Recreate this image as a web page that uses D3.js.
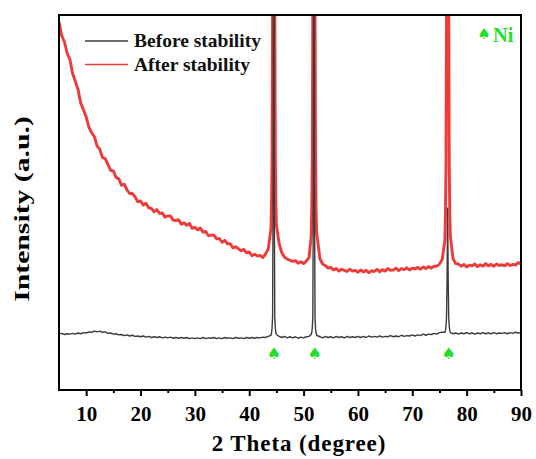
<!DOCTYPE html>
<html><head><meta charset="utf-8">
<script src="https://cdn.jsdelivr.net/npm/d3@7"></script>
<style>
html,body{margin:0;padding:0;background:#fff;}
svg text{font-family:"Liberation Serif","Times New Roman",serif;font-weight:bold;}
</style></head>
<body><svg id="chart" width="536" height="459"></svg>
<script>
// ---- data ----
const twoTheta = [
 5,5.5,6,6.5,7,7.5,8,8.5,9,9.5,10,10.5,11,11.5,12,12.5,13,13.5,14,14.5,15,15.5,16,16.5,17,17.5,18,18.5,19,19.5,
 20,20.5,21,21.5,22,22.5,23,23.5,24,24.5,25,25.5,26,26.5,27,27.5,28,28.5,29,29.5,30,30.5,31,31.5,32,32.5,33,33.5,34,34.5,
 35,35.5,36,36.5,37,37.5,38,38.5,39,39.5,40,40.5,41,41.5,42,42.5,43,43.5,
 44,44.1,44.2,44.3,44.4,44.5,44.6,44.7,44.8,44.9,45,
 45.5,46,46.5,47,47.5,48,48.5,49,49.5,50,50.5,51,
 51.4,51.5,51.6,51.7,51.8,51.9,52,52.1,52.2,52.3,52.4,
 53,53.5,54,54.5,55,55.5,56,56.5,57,57.5,58,58.5,59,59.5,60,60.5,61,61.5,62,62.5,63,63.5,64,64.5,
 65,65.5,66,66.5,67,67.5,68,68.5,69,69.5,70,70.5,71,71.5,72,72.5,73,73.5,74,74.5,75,75.5,
 76,76.1,76.2,76.3,76.4,76.5,76.6,76.7,76.8,76.9,77,
 77.5,78,78.5,79,79.5,80,80.5,81,81.5,82,82.5,83,83.5,84,84.5,85,85.5,86,86.5,87,87.5,88,88.5,89,89.5,90
];
const beforeStability = [
 14.9,15.1,14.8,15.0,14.9,15.1,14.9,15.2,15.0,15.3,15.2,15.5,15.4,15.7,15.5,15.7,15.4,15.5,15.1,15.2,14.9,15.0,14.7,14.8,14.5,14.7,14.4,14.6,14.3,14.4,
 14.2,14.4,14.1,14.3,14.0,14.2,14.0,14.2,13.9,14.1,13.9,14.1,13.8,14.0,13.8,14.0,13.8,14.0,13.7,13.9,13.7,13.9,13.7,14.0,13.7,13.9,13.8,14.0,13.7,13.9,
 13.7,14.0,13.8,13.9,13.7,14.0,13.8,13.9,13.7,14.0,13.8,14.0,13.8,14.0,13.9,14.1,14.0,14.3,
 14.6,15.3,16.5,19.5,55,250,55,19.5,16.5,15.4,14.8,
 14.3,14.0,14.3,13.9,14.2,13.9,14.2,13.8,14.1,13.9,14.2,14.3,
 14.8,15.4,16.5,19.5,55,250,55,19.5,16.3,15.2,14.6,
 14.2,13.9,14.3,14.0,14.2,13.9,14.3,14.0,14.2,13.9,14.3,14.0,14.2,14.0,14.3,14.0,14.3,14.0,14.4,14.1,14.3,14.1,14.4,14.1,
 14.3,14.2,14.5,14.2,14.4,14.2,14.6,14.3,14.5,14.4,14.7,14.4,14.7,14.5,14.9,14.6,14.9,14.8,15.1,14.9,15.3,15.4,
 15.4,15.9,17.0,19.5,30,48.5,30,19.5,17.0,15.8,15.3,
 15.0,15.2,14.9,15.2,15.0,15.3,15.0,15.2,14.9,15.2,15.0,15.3,15.0,15.2,15.0,15.3,15.0,15.2,15.1,15.3,15.0,15.3,15.1,15.4,15.2,15.3
];
const afterStability = [
 98.1,94.5,92.8,89.8,88.2,84.4,82.3,80.1,76.5,74.7,72.8,70.1,68.6,67.6,65.1,64.2,62.0,61.7,60.1,58.6,58.4,56.7,56.3,54.6,54.9,53.4,52.4,52.4,51.5,50.2,
 50.4,49.3,49.8,48.6,48.4,47.5,48.1,47.1,47.2,46.1,46.4,46.4,45.3,45.2,45.4,44.2,44.6,43.9,44.4,43.1,43.4,42.7,43.2,42.1,42.3,41.1,41.3,41.3,40.3,40.4,
 39.4,39.9,39.0,39.0,37.9,38.2,37.7,37.1,37.5,36.6,36.8,35.8,36.2,35.7,35.9,35.3,36.3,37.6,
 43,50,62,105,250,400,250,105,62,50,44,
 39.0,36.6,35.4,34.9,34.6,34.3,34.5,33.8,34.2,33.7,34.4,35.3,
 41,48,62,105,250,400,250,105,62,48,42,
 35.0,33.6,33.2,32.5,32.7,32.0,32.4,31.7,32.2,31.9,31.6,32.2,31.7,31.9,31.4,32.0,31.5,31.9,31.3,31.8,31.6,32.2,31.5,32.1,
 31.7,32.4,31.9,32.0,32.5,31.8,32.4,32.1,32.6,32.0,32.5,32.3,32.7,32.2,32.8,32.4,32.9,32.5,33.0,33.0,33.6,34.8,
 40,47,60,105,250,400,250,105,60,47,41,
 35.0,33.7,33.6,33.0,33.5,32.8,33.3,33.1,33.6,32.9,33.4,33.0,33.7,33.1,33.5,33.0,33.6,33.2,33.4,33.1,33.7,33.2,33.5,33.3,34.0,33.6
];
const xTicks = [10,20,30,40,50,60,70,80,90];
const xMinorTicks = [15,25,35,45,55,65,75,85];
const niMarkers = [44.55,52.05,76.7];
const seriesNames = ["Before stability","After stability"];
const seriesColors = ["#3c3c3c","#ef3a3a"];

// ---- chart ----
const svg = d3.select("#chart");
const L=59, R=521, T=15, B=390;
const x = d3.scaleLinear().domain([5,90]).range([L,R]);
const y = d3.scaleLinear().domain([0,100]).range([B,T]);

svg.append("defs").append("clipPath").attr("id","clip")
  .append("rect").attr("x",L).attr("y",T).attr("width",R-L).attr("height",B-T);

const line = d3.line().x(d=>x(d[0])).y(d=>y(d[1]));
const g = svg.append("g").attr("clip-path","url(#clip)");
g.append("path").datum(twoTheta.map((t,i)=>[t,afterStability[i]]))
  .attr("d",line).attr("fill","none").attr("stroke",seriesColors[1]).attr("stroke-width",2.9).attr("stroke-linejoin","round");
g.append("path").datum(twoTheta.map((t,i)=>[t,beforeStability[i]]))
  .attr("d",line).attr("fill","none").attr("stroke",seriesColors[0]).attr("stroke-width",1.4).attr("stroke-linejoin","round");

// axes
const ax = svg.append("g").attr("transform",`translate(0,${B})`)
  .call(d3.axisBottom(x).tickValues(xTicks).tickSize(6).tickPadding(10).tickFormat(d3.format("d")));
ax.select(".domain").remove();
ax.selectAll("line").attr("stroke","#000").attr("stroke-width",2);
ax.selectAll("text").attr("font-size",21).attr("fill","#000")
  .style("font-family","'Liberation Serif','Times New Roman',serif").style("font-weight","bold");
const axm = svg.append("g").attr("transform",`translate(0,${B})`)
  .call(d3.axisBottom(x).tickValues(xMinorTicks).tickSize(3).tickFormat(""));
axm.select(".domain").remove();
axm.selectAll("line").attr("stroke","#000").attr("stroke-width",2);

svg.append("rect").attr("x",L).attr("y",T).attr("width",R-L).attr("height",B-T)
  .attr("fill","none").attr("stroke","#000").attr("stroke-width",2);

// axis titles
svg.append("text").attr("x",299).attr("y",451).attr("text-anchor","middle")
  .attr("font-size",23).attr("letter-spacing",0.9).text("2 Theta (degree)");
svg.append("text").attr("transform","translate(29,209) rotate(-90) scale(1.35,1)").attr("text-anchor","middle")
  .attr("font-size",22).text("Intensity (a.u.)");

// legend
const leg = svg.append("g");
seriesNames.forEach((n,i)=>{
  const yy = 41 + i*23.5;
  leg.append("line").attr("x1",85).attr("x2",128).attr("y1",yy).attr("y2",yy)
    .attr("stroke",seriesColors[i]).attr("stroke-width",1.5);
  leg.append("text").attr("x",134).attr("y",yy+6).attr("font-size",19.5).attr("fill","#111").text(n);
});

// Ni markers
const green = "#22e02a";
svg.append("text").attr("x",484).attr("y",39).attr("text-anchor","middle")
  .style("font-family","'DejaVu Sans',sans-serif").attr("font-size",15).attr("fill",green).text("\u2660");
svg.append("text").attr("x",493).attr("y",42).attr("font-size",20.5).attr("fill",green).text("Ni");
svg.selectAll(".ni").data(niMarkers).enter().append("text").attr("class","ni")
  .attr("x",d=>x(d)).attr("y",359).attr("text-anchor","middle")
  .style("font-family","'DejaVu Sans',sans-serif").attr("font-size",16).attr("fill",green).text("\u2660");
</script></body></html>
